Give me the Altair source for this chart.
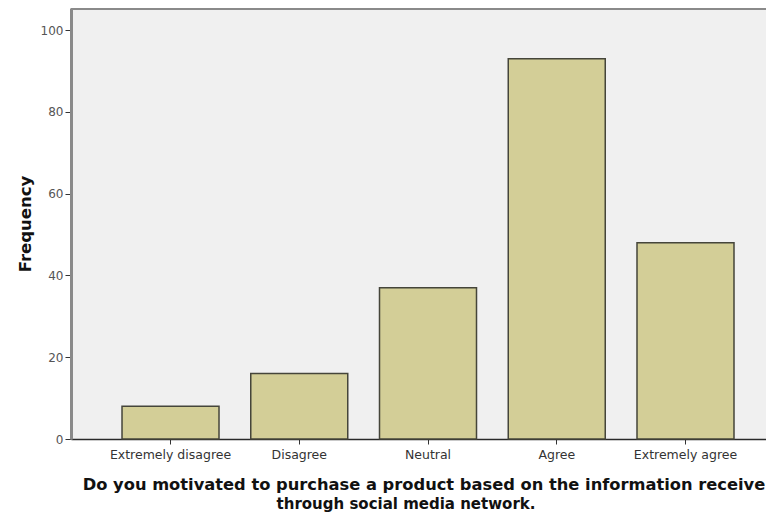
import altair as alt
import pandas as pd

categories = ["Extremely disagree", "Disagree", "Neutral", "Agree", "Extremely agree"]
frequency = [8, 16, 37, 93, 48]
y_ticks = [0, 20, 40, 60, 80, 100]
y_max = 105.4
x_title_line1 = "Do you motivated to purchase a product based on the information receive"
x_title_line2 = "through social media network."
y_title = "Frequency"

df = pd.DataFrame({"category": categories, "frequency": frequency})
top_df = pd.DataFrame({"top": [y_max]})

y_axis = alt.Axis(title=y_title, values=y_ticks, grid=False, tickSize=6,
                  tickColor="#333333", domainColor="#8a8a8a", domainWidth=3,
                  labelPadding=2, labelFont="DejaVu Sans", labelFontSize=12,
                  labelColor="#555555", titleFont="DejaVu Sans", titleFontSize=16.5,
                  titleFontWeight="bold", titleColor="#111111", titlePadding=7)

bars = alt.Chart(df).mark_bar(
    color="#d3ce97", stroke="#45453a", strokeWidth=1.5
).encode(
    x=alt.X("category:N", sort=categories,
            scale=alt.Scale(paddingInner=0.2466, paddingOuter=0.3224, align=0.6145),
            axis=alt.Axis(title=x_title_line1, labelAngle=0, tickSize=5, tickColor="#333333",
                          domainColor="#2a2a2a", domainWidth=1.6, labelPadding=4,
                          labelFont="DejaVu Sans", labelFontSize=12.5, labelColor="#333333",
                          titleFont="DejaVu Sans", titleFontSize=16.3, titleFontWeight="bold",
                          titleColor="#111111", titlePadding=16, titleX=352.5)),
    y=alt.Y("frequency:Q", scale=alt.Scale(domain=[0, y_max], nice=False), axis=y_axis),
)

top_line = alt.Chart(top_df).mark_rule(color="#8a8a8a", strokeWidth=4).encode(
    y=alt.Y("top:Q", scale=alt.Scale(domain=[0, y_max], nice=False), axis=y_axis)
)

chart = alt.layer(bars, top_line).properties(
    width=695, height=431,
    autosize=alt.AutoSizeParams(type="none"),
    padding={"left": 63, "top": 0, "right": 0, "bottom": 73},
    background="white",
    title=alt.TitleParams(text=x_title_line2, orient="bottom", anchor="middle",
                          frame="group", dx=-12.5, offset=4, font="DejaVu Sans",
                          fontSize=15, fontWeight="bold", color="#111111"),
).configure_view(
    fill="#f0f0f0", stroke=None
)

chart.save("out.html", embed_options={"renderer": "svg", "actions": False})
